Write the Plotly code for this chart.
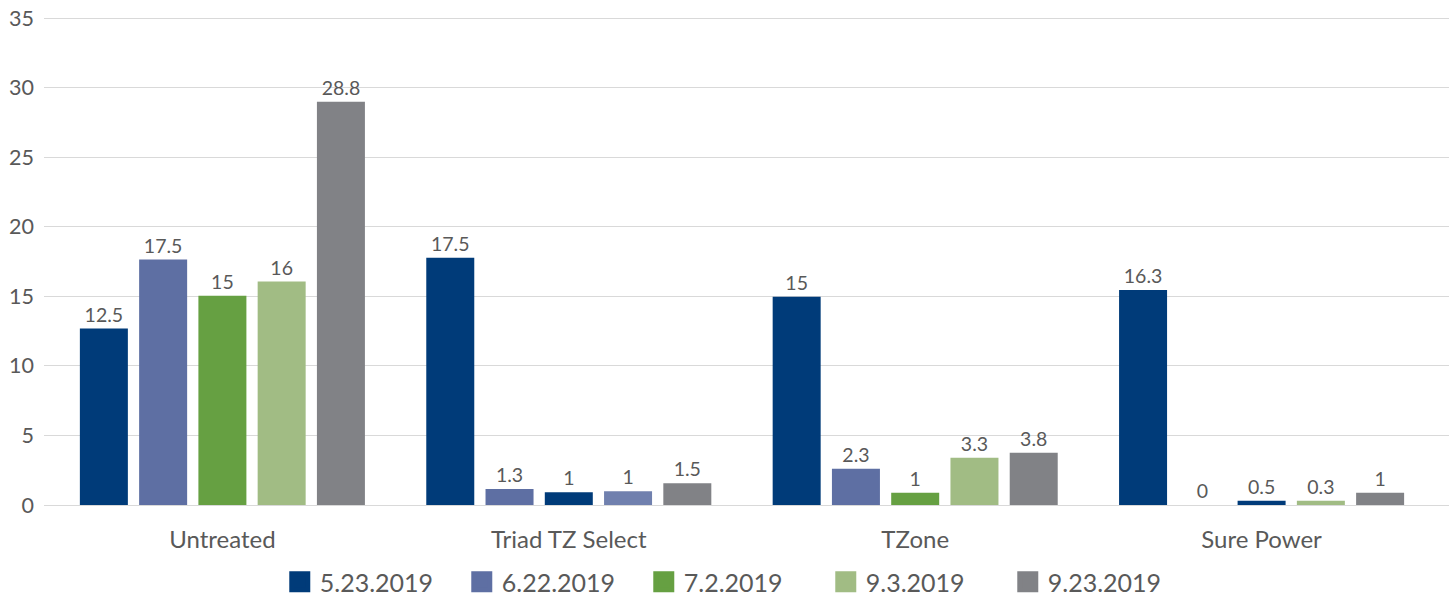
import plotly.graph_objects as go

categories = ["Untreated", "Triad TZ Select", "TZone", "Sure Power"]
series_names = ["5.23.2019", "6.22.2019", "7.2.2019", "9.3.2019", "9.23.2019"]

# bar heights as drawn
v_0523 = [12.68, 17.77, 14.97, 15.46]
v_0622 = [17.64, 1.15, 2.61, 0.0]
v_0702 = [15.05, 0.91, 0.88, 0.31]
v_0903 = [16.06, 0.98, 3.40, 0.31]
v_0923 = [28.98, 1.56, 3.76, 0.88]

# data labels as printed
t_0523 = ["12.5", "17.5", "15", "16.3"]
t_0622 = ["17.5", "1.3", "2.3", "0"]
t_0702 = ["15", "1", "1", "0.5"]
t_0903 = ["16", "1", "3.3", "0.3"]
t_0923 = ["28.8", "1.5", "3.8", "1"]

y_ticks = [0, 5, 10, 15, 20, 25, 30, 35]

NAVY = "#003B79"
BLUE = "#5E6FA3"
LBLUE = "#7080AE"
GREEN = "#66A042"
LGREEN = "#A1BC84"
GREY = "#818286"

series_colors = [NAVY, BLUE, GREEN, LGREEN, GREY]
point_colors = [
    [NAVY, NAVY, NAVY, NAVY],
    [BLUE, BLUE, BLUE, BLUE],
    [GREEN, NAVY, GREEN, NAVY],
    [LGREEN, LBLUE, LGREEN, LGREEN],
    [GREY, GREY, GREY, GREY],
]
values = [v_0523, v_0622, v_0702, v_0903, v_0923]
texts = [t_0523, t_0622, t_0702, t_0903, t_0923]

FONT = "Lato"
TXT = "#595959"

fig = go.Figure()
for name, vals, txt, pc, sc in zip(series_names, values, texts, point_colors, series_colors):
    fig.add_trace(go.Bar(
        x=categories, y=vals, name=name, legendgroup=name, showlegend=False,
        marker=dict(color=pc, line=dict(width=0)),
        text=txt, texttemplate="%{text}", textposition="outside",
        textfont=dict(family=FONT, size=19.5, color=TXT),
        cliponaxis=False, hoverinfo="skip",
    ))
    fig.add_trace(go.Scatter(
        x=[None], y=[None], mode="markers", name=name, legendgroup=name,
        marker=dict(symbol="square", size=16, color=sc, line=dict(width=5, color=sc)),
        hoverinfo="skip",
    ))

fig.update_layout(
    width=1455, height=601,
    margin=dict(l=44, r=6, t=16, b=96, autoexpand=False),
    paper_bgcolor="white", plot_bgcolor="white",
    barmode="group", bargap=0.1446, bargroupgap=0.19,
    font=dict(family=FONT, color=TXT),
    showlegend=True,
    legend=dict(
        orientation="h", xref="container", yref="container",
        x=0.505, xanchor="center", y=1 - 582 / 601, yanchor="middle",
        font=dict(family=FONT, size=25, color=TXT),
        itemsizing="trace", traceorder="normal",
        entrywidth=137, entrywidthmode="pixels",
        bgcolor="rgba(0,0,0,0)",
    ),
)
fig.update_xaxes(
    type="category", range=[-0.515, 3.541], automargin=False,
    showgrid=False, showline=False, zeroline=False, ticks="",
    tickfont=dict(family=FONT, size=24, color=TXT),
    ticklabelstandoff=18,
    fixedrange=True,
)
fig.update_yaxes(
    range=[0, 35.15], tickvals=y_ticks, ticktext=[str(t) for t in y_ticks],
    automargin=False,
    showgrid=True, gridcolor="#D9D9D9", gridwidth=1,
    zeroline=True, zerolinecolor="#D9D9D9", zerolinewidth=1,
    showline=False, ticks="",
    tickfont=dict(family=FONT, size=21.5, color=TXT),
    ticklabelstandoff=9,
    fixedrange=True,
)

fig.write_html(
    "out.html",
    config={"displayModeBar": False},
    post_script="document.body.style.margin='0px';document.body.style.overflow='hidden';",
)
